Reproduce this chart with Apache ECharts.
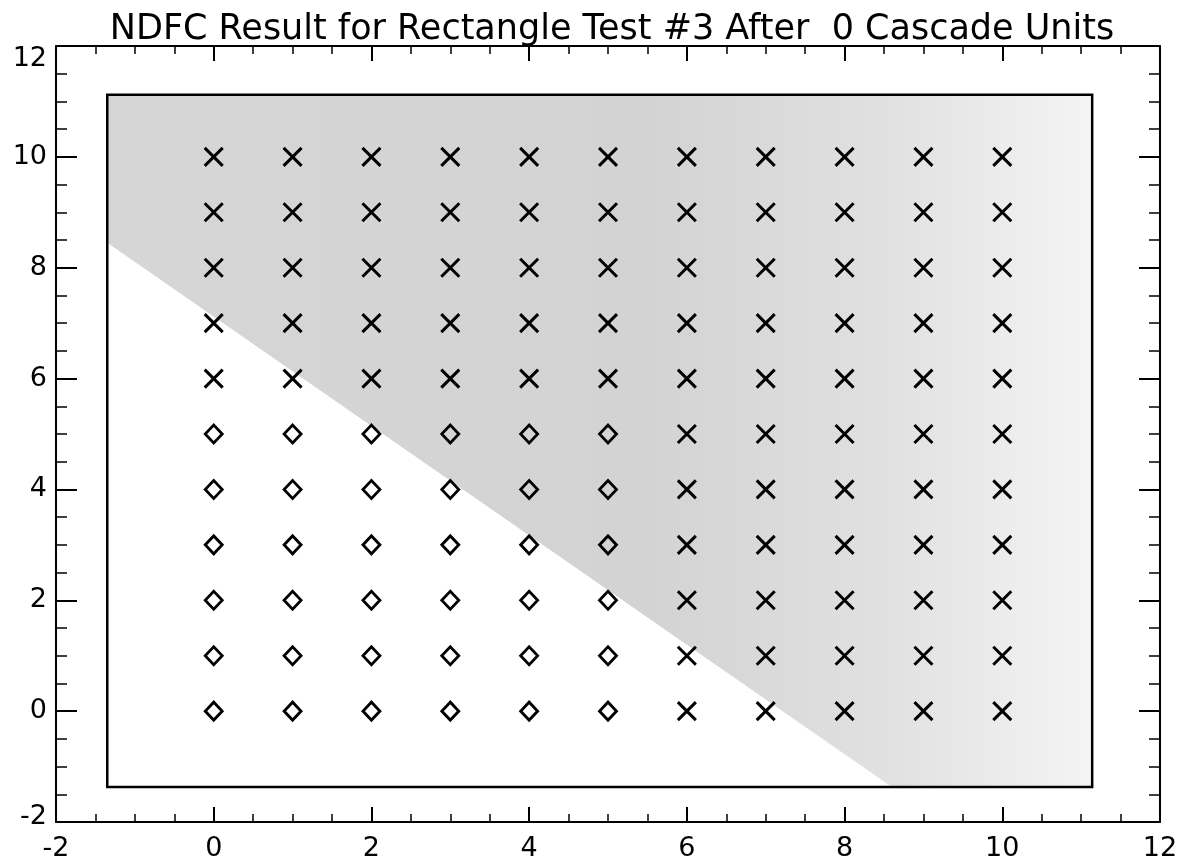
<!DOCTYPE html>
<html>
<head>
<meta charset="utf-8">
<script src="https://cdn.jsdelivr.net/npm/echarts@6/dist/echarts.min.js"></script>
<style>
html,body{margin:0;padding:0;background:#fff;}
#chart{width:1183px;height:867px;}
</style>
</head>
<body>
<div id="chart"></div>
<script>
// ---- data ----
const titleText = 'NDFC Result for Rectangle Test #3 After  0 Cascade Units';
const xRange = [-2, 12];
const yRange = [-2, 12];
const tickStep = 2;
const gridXs = [0, 1, 2, 3, 4, 5, 6, 7, 8, 9, 10];
const gridYs = [0, 1, 2, 3, 4, 5, 6, 7, 8, 9, 10];
// marker class per row (row index = y value), 'D' = diamond, 'X' = cross
const row0  = ['D','D','D','D','D','D','X','X','X','X','X'];
const row1  = ['D','D','D','D','D','D','X','X','X','X','X'];
const row2  = ['D','D','D','D','D','D','X','X','X','X','X'];
const row3  = ['D','D','D','D','D','D','X','X','X','X','X'];
const row4  = ['D','D','D','D','D','D','X','X','X','X','X'];
const row5  = ['D','D','D','D','D','D','X','X','X','X','X'];
const row6  = ['X','X','X','X','X','X','X','X','X','X','X'];
const row7  = ['X','X','X','X','X','X','X','X','X','X','X'];
const row8  = ['X','X','X','X','X','X','X','X','X','X','X'];
const row9  = ['X','X','X','X','X','X','X','X','X','X','X'];
const row10 = ['X','X','X','X','X','X','X','X','X','X','X'];
// shaded decision region (data coordinates)
const shadeX = [-1.35, 11.14, 11.14, 8.6, -1.35];
const shadeY = [11.12, 11.12, -1.37, -1.37, 8.45];
// inner frame (data coordinates)
const frameX = [-1.35, 11.14, 11.14, -1.35];
const frameY = [11.12, 11.12, -1.37, -1.37];

// ---- build ----
const rows = [row0,row1,row2,row3,row4,row5,row6,row7,row8,row9,row10];
const crossPts = [], diamondPts = [];
rows.forEach((r, yi) => r.forEach((c, xi) => {
  const p = [gridXs[xi], gridYs[yi]];
  if (c === 'X') crossPts.push(p); else diamondPts.push(p);
}));
const shadePoly = shadeX.map((x, i) => [x, shadeY[i]]);
const framePoly = frameX.map((x, i) => [x, frameY[i]]);

const FONT = 'DejaVu Sans';
const LABEL_SIZE = 27;
const chart = echarts.init(document.getElementById('chart'), null, {renderer: 'canvas'});

function axisCommon(pos, showLabel, isX) {
  return {
    type: 'value',
    position: pos,
    min: isX ? xRange[0] : yRange[0],
    max: isX ? xRange[1] : yRange[1],
    interval: tickStep,
    axisLine: {show: true, onZero: false, lineStyle: {color: '#000', width: 2}},
    axisTick: {show: true, inside: true, length: isX ? 15 : 21, lineStyle: {color: '#000', width: 2}},
    minorTick: {show: true, splitNumber: 4, length: isX ? 8 : 11, lineStyle: {color: '#000', width: 1.5}},
    splitLine: {show: false},
    minorSplitLine: {show: false},
    axisLabel: showLabel ? (isX ? {
      show: true, color: '#000', fontFamily: FONT, fontSize: LABEL_SIZE, margin: 13
    } : {
      show: true, color: '#000', fontFamily: FONT, fontSize: LABEL_SIZE, margin: 9,
      formatter: v => v === yRange[1] ? '{t|' + v + '}' : (v === yRange[0] ? '{b|' + v + '}' : String(v)),
      rich: {
        t: {fontFamily: FONT, fontSize: LABEL_SIZE, color: '#000', padding: [26, 0, 0, 0]},
        b: {fontFamily: FONT, fontSize: LABEL_SIZE, color: '#000', padding: [0, 0, 10, 0]}
      }
    }) : {show: false}
  };
}

const option = {
  backgroundColor: '#fff',
  animation: false,
  title: {
    text: titleText,
    left: 607,
    textAlign: 'center',
    top: 7,
    textStyle: {fontFamily: FONT, fontSize: 35, fontWeight: 'normal', color: '#000'}
  },
  grid: {left: 56, right: 23, top: 46, bottom: 45, containLabel: false},
  xAxis: [axisCommon('bottom', true, true), axisCommon('top', false, true)],
  yAxis: [axisCommon('left', true, false), axisCommon('right', false, false)],
  series: [
    {
      type: 'custom', silent: true, z: 1,
      xAxisIndex: 0, yAxisIndex: 0,
      data: [[0, 0]],
      renderItem: (params, api) => ({
        type: 'polygon',
        shape: {points: shadePoly.map(p => api.coord(p))},
        style: {
          fill: new echarts.graphic.LinearGradient(0, 0, 1, 0, [
            {offset: 0, color: '#d6d6d6'},
            {offset: 0.55, color: '#d3d3d3'},
            {offset: 0.78, color: '#e0e0e0'},
            {offset: 1, color: '#f4f4f4'}
          ]),
          stroke: null
        }
      })
    },
    {
      type: 'custom', silent: true, z: 2,
      xAxisIndex: 0, yAxisIndex: 0,
      data: [[0, 0]],
      renderItem: (params, api) => ({
        type: 'polygon',
        shape: {points: framePoly.map(p => api.coord(p))},
        style: {fill: null, stroke: '#000', lineWidth: 2.5}
      })
    },
    {
      type: 'scatter', z: 3, xAxisIndex: 0, yAxisIndex: 0,
      data: crossPts,
      symbol: 'path://M0,0L10,10M10,0L0,10',
      symbolSize: 18,
      itemStyle: {color: 'transparent', borderColor: '#000', borderWidth: 3, opacity: 1}
    },
    {
      type: 'scatter', z: 3, xAxisIndex: 0, yAxisIndex: 0,
      data: diamondPts,
      symbol: 'diamond',
      symbolSize: [17, 18],
      itemStyle: {color: 'transparent', borderColor: '#000', borderWidth: 2.8, opacity: 1}
    }
  ]
};
chart.setOption(option);
</script>
</body>
</html>
